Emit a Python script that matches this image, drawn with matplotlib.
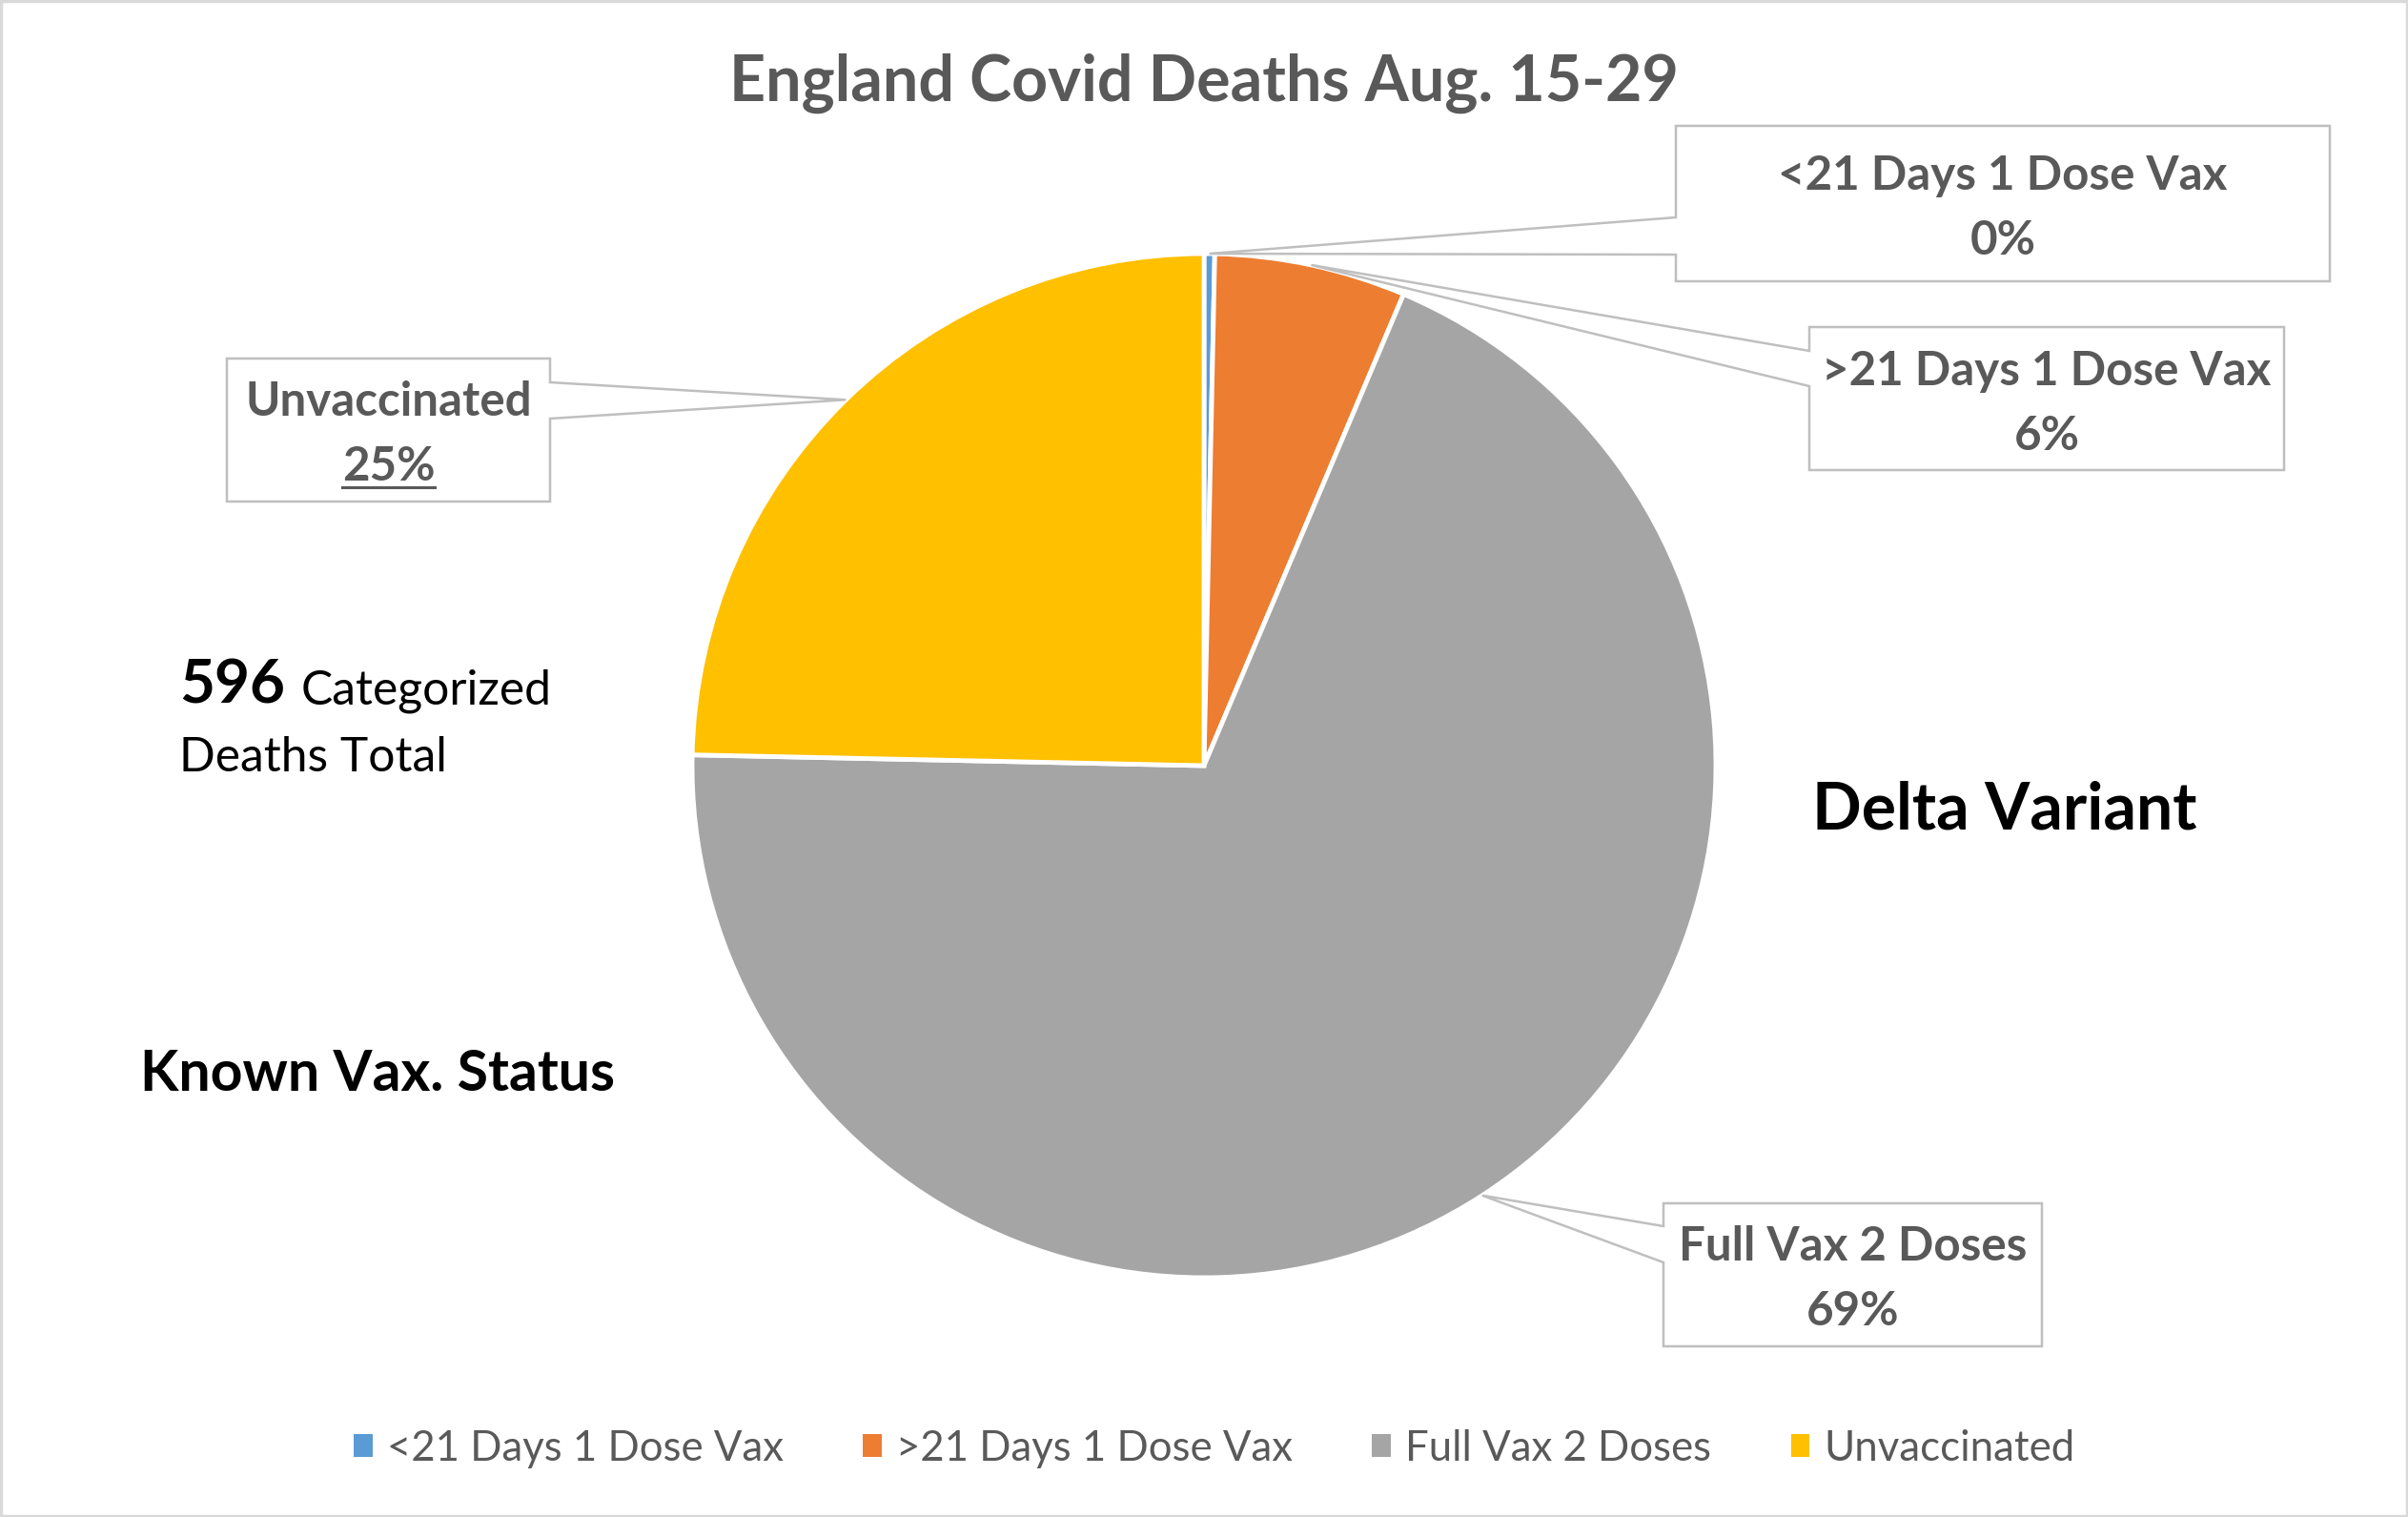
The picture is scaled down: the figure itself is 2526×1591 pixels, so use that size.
import matplotlib

matplotlib.use("Agg")
import matplotlib.pyplot as plt
from matplotlib.patches import Patch, Polygon, Rectangle
import numpy as np

# Daten
kategorien = ["<21 Days 1 Dose Vax", ">21 Days 1 Dose Vax", "Full Vax 2 Doses", "Unvaccinated"]
todesfaelle = [2, 36, 411, 147]
farben = ["#5B9BD5", "#ED7D31", "#A5A5A5", "#FFC000"]
titel = "England Covid Deaths Aug. 15-29"

W, H = 2526, 1591
GRAU_TEXT = "#595959"
GRAU_LINIE = "#BFBFBF"

plt.rcParams["font.family"] = ["Lato", "DejaVu Sans"]


def Y(y):
    """Bildkoordinate (von oben) in Achsenkoordinate (von unten)"""
    return H - y


fig = plt.figure(figsize=(W / 100, H / 100), dpi=100)
ax = fig.add_axes([0, 0, 1, 1])

mitte = (1263, Y(803))
radius = 537
wedges, _ = ax.pie(
    todesfaelle,
    colors=farben,
    startangle=90,
    counterclock=False,
    center=mitte,
    radius=radius,
    wedgeprops={"edgecolor": "white", "linewidth": 3.5},
)
ax.set_xlim(0, W)
ax.set_ylim(0, H)
ax.set_aspect("auto")
ax.set_position([0, 0, 1, 1])
ax.axis("off")

# Rahmen um das Diagramm
ax.add_patch(Rectangle((1, 1), W - 2, H - 2, fill=False, edgecolor="#D9D9D9", linewidth=2.5))

ax.text(mitte[0], Y(106), titel, ha="center", va="baseline",
        fontsize=47.8, fontweight="bold", color=GRAU_TEXT)

# Callouts: Box (x0, x1, y0, y1), Seite des Zeigers, Ansatzpunkte
callouts = [
    ((1758, 2444, 132, 295), "left", (228, 267)),
    ((1898, 2396, 343, 493), "left", (368, 405)),
    ((1745, 2142, 1262, 1412), "left", (1286, 1324)),
    ((238, 577, 376, 526), "right", (401, 439)),
]

gesamt = sum(todesfaelle)
for i, (box, seite, (ya, yb)) in enumerate(callouts):
    x0, x1, y0, y1 = box
    w = wedges[i]
    theta = np.deg2rad((w.theta1 + w.theta2) / 2)
    spitze = (mitte[0] + radius * np.cos(theta), mitte[1] + radius * np.sin(theta))
    if seite == "left":
        pts = [(x0, Y(y0)), (x1, Y(y0)), (x1, Y(y1)), (x0, Y(y1)),
               (x0, Y(yb)), spitze, (x0, Y(ya))]
    else:
        pts = [(x0, Y(y0)), (x1, Y(y0)), (x1, Y(ya)), spitze,
               (x1, Y(yb)), (x1, Y(y1)), (x0, Y(y1))]
    ax.add_patch(Polygon(pts, closed=True, facecolor="white",
                         edgecolor=GRAU_LINIE, linewidth=1.8, zorder=3))
    cx = (x0 + x1) / 2
    cy = (y0 + y1) / 2 + 5
    ax.text(cx, Y(cy - 34), kategorien[i], ha="center", va="center",
            fontsize=35.5, fontweight="bold", color=GRAU_TEXT, zorder=4)
    prozent = ax.text(cx, Y(cy + 34), f"{todesfaelle[i] / gesamt:.0%}", ha="center",
                      va="center", fontsize=35.5, fontweight="bold", color=GRAU_TEXT, zorder=4)
    if kategorien[i] == "Unvaccinated":
        # Unterstrichener Prozentwert
        fig.canvas.draw()
        bb = prozent.get_window_extent().transformed(ax.transData.inverted())
        ax.plot([bb.x0, bb.x1], [Y(511), Y(511)], color=GRAU_TEXT, linewidth=2.2, zorder=4)

# Freitexte
ax.text(188, Y(738), str(gesamt), ha="left", va="baseline", fontsize=46,
        fontweight="bold", color="black")
ax.text(316, Y(738), "Categorized", ha="left", va="baseline", fontsize=35.8, color="black")
ax.text(188, Y(809), "Deaths Total", ha="left", va="baseline", fontsize=35.8, color="black")
ax.text(147, Y(1144), "Known Vax. Status", ha="left", va="baseline", fontsize=42.5,
        fontweight="bold", color="black")
ax.text(1901, Y(870), "Delta Variant", ha="left", va="baseline", fontsize=49,
        fontweight="bold", color="black")

# Legende
handles = [Patch(facecolor=f, edgecolor="none") for f in farben]
leg = ax.legend(
    handles,
    kategorien,
    loc="center",
    bbox_to_anchor=(0.5 + 11 / W, 1 - 1519 / H),
    ncol=4,
    frameon=False,
    fontsize=31.5,
    handlelength=0.45,
    handleheight=0.45,
    handletextpad=0.35,
    columnspacing=1.9,
)
for t in leg.get_texts():
    t.set_color(GRAU_TEXT)

fig.savefig("out.png", dpi=100)
